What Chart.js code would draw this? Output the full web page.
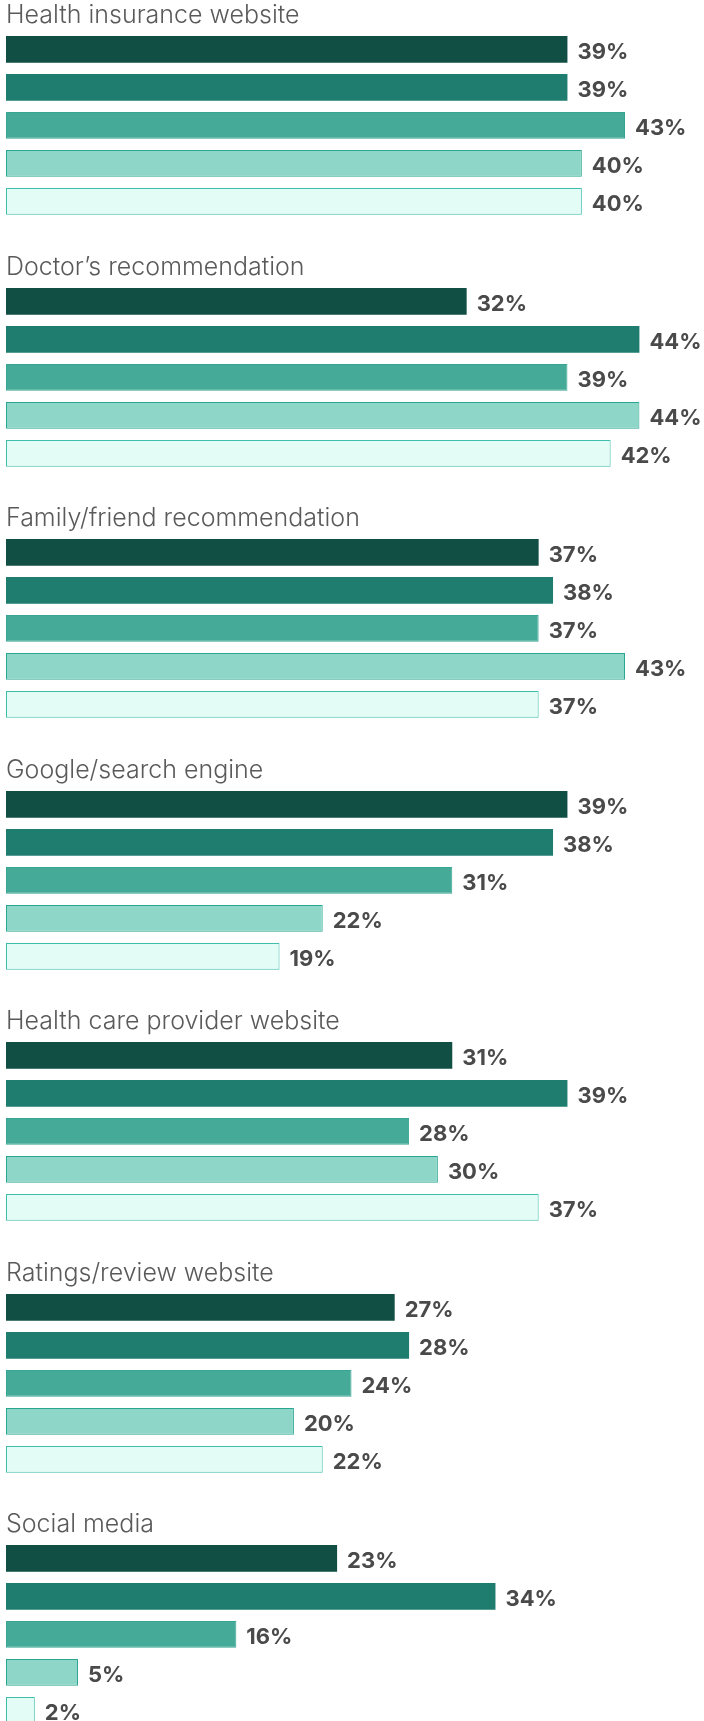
<!DOCTYPE html>
<html>
<head>
<meta charset="utf-8">
<script src="https://cdn.jsdelivr.net/npm/chart.js@4"></script>
<style>
  html, body { margin: 0; padding: 0; background: #fff; }
  body { width: 704px; height: 1721px; overflow: hidden; position: relative; }
  .group { position: absolute; left: 0; width: 704px; height: 252px; }
</style>
</head>
<body>
<div id="charts"></div>
<script>
// one small horizontal bar chart per information source
const categories = [
  'Health insurance website',
  'Doctor\u2019s recommendation',
  'Family/friend recommendation',
  'Google/search engine',
  'Health care provider website',
  'Ratings/review website',
  'Social media'
];

// values (%) per row, top row to bottom row, in category order
const series1 = [39, 32, 37, 39, 31, 27, 23];
const series2 = [39, 44, 38, 38, 39, 28, 34];
const series3 = [43, 39, 37, 31, 28, 24, 16];
const series4 = [40, 44, 43, 22, 30, 20, 5];
const series5 = [40, 42, 37, 19, 37, 22, 2];

const fills   = ['#114f45', '#1e7d6f', '#46aa98', '#8ed6c7', '#e3fcf5'];
const borders = ['#114f45', '#1e7d6f', '#37a593', '#2aa592', '#3dbdaa'];
const borderWidths = [0, 0, 1, 1, 1];

const GROUP_PITCH = 251.5;

// value labels at the end of each bar
const valueLabels = {
  id: 'valueLabels',
  afterDatasetsDraw(chart) {
    const ctx = chart.ctx;
    const meta = chart.getDatasetMeta(0);
    const values = chart.data.datasets[0].data;
    ctx.save();
    ctx.font = '700 22px Inter, "Open Sans", sans-serif';
    ctx.fillStyle = '#4a4a4a';
    ctx.textAlign = 'left';
    ctx.textBaseline = 'alphabetic';
    meta.data.forEach((bar, i) => {
      ctx.fillText(values[i] + '%', bar.x + 10, bar.y + 9.7);
    });
    ctx.restore();
  }
};

const host = document.getElementById('charts');
categories.forEach((cat, gi) => {
  const wrap = document.createElement('div');
  wrap.className = 'group';
  wrap.style.top = Math.round(gi * GROUP_PITCH) + 'px';
  const canvas = document.createElement('canvas');
  wrap.appendChild(canvas);
  host.appendChild(wrap);

  const values = [series1[gi], series2[gi], series3[gi], series4[gi], series5[gi]];

  new Chart(canvas.getContext('2d'), {
    type: 'bar',
    data: {
      labels: ['1', '2', '3', '4', '5'],
      datasets: [{
        data: values,
        backgroundColor: fills,
        borderColor: borders,
        borderWidth: borderWidths,
        borderSkipped: false,
        categoryPercentage: 1,
        barPercentage: 0.70
      }]
    },
    options: {
      indexAxis: 'y',
      responsive: true,
      maintainAspectRatio: false,
      animation: false,
      layout: { padding: { left: 6, right: 7, top: 0, bottom: 31.6 } },
      plugins: {
        legend: { display: false },
        tooltip: { enabled: false },
        title: {
          display: true,
          text: cat,
          align: 'start',
          color: '#5a5a5a',
          font: { family: 'Inter, "Open Sans", sans-serif', size: 25, weight: 300 },
          padding: { top: 0.4, bottom: 0 }
        }
      },
      scales: {
        x: { display: false, min: 0, max: 48 },
        y: { display: false }
      }
    },
    plugins: [valueLabels]
  });
});
</script>
</body>
</html>
